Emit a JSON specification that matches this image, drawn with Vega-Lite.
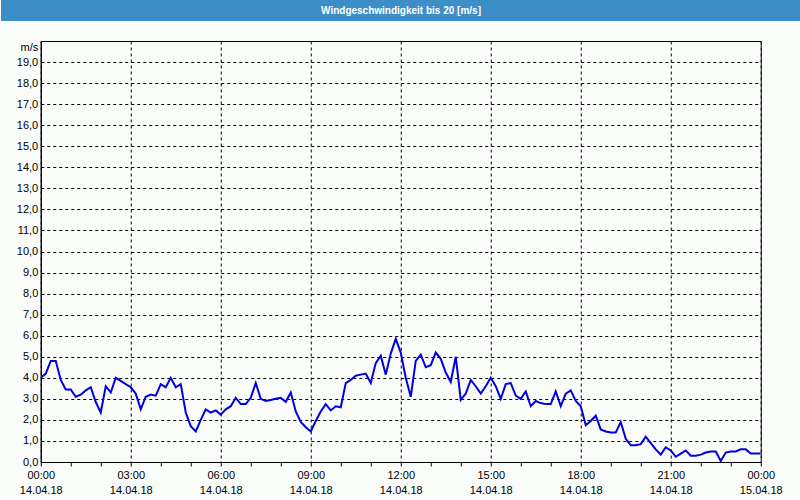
{
  "$schema": "https://vega.github.io/schema/vega-lite/v6.json",
  "padding": 0,
  "background": "#fafcfa",
  "spacing": 19,
  "center": true,
  "config": {
    "font": "Liberation Sans",
    "axis": {"labelFont": "Liberation Sans", "labelFontSize": 11, "labelColor": "#000000"}
  },
  "datasets": {
    "wind": [
      {"t": "2018-04-14T00:00:00", "v": 4.0},
      {"t": "2018-04-14T00:10:00", "v": 4.2},
      {"t": "2018-04-14T00:20:00", "v": 4.8},
      {"t": "2018-04-14T00:30:00", "v": 4.8},
      {"t": "2018-04-14T00:40:00", "v": 3.9},
      {"t": "2018-04-14T00:50:00", "v": 3.45},
      {"t": "2018-04-14T01:00:00", "v": 3.45},
      {"t": "2018-04-14T01:10:00", "v": 3.1},
      {"t": "2018-04-14T01:20:00", "v": 3.2},
      {"t": "2018-04-14T01:30:00", "v": 3.4},
      {"t": "2018-04-14T01:40:00", "v": 3.55},
      {"t": "2018-04-14T01:50:00", "v": 2.85},
      {"t": "2018-04-14T02:00:00", "v": 2.35},
      {"t": "2018-04-14T02:10:00", "v": 3.6},
      {"t": "2018-04-14T02:20:00", "v": 3.3},
      {"t": "2018-04-14T02:30:00", "v": 4.0},
      {"t": "2018-04-14T02:40:00", "v": 3.85},
      {"t": "2018-04-14T02:50:00", "v": 3.7},
      {"t": "2018-04-14T03:00:00", "v": 3.55},
      {"t": "2018-04-14T03:10:00", "v": 3.25},
      {"t": "2018-04-14T03:20:00", "v": 2.5},
      {"t": "2018-04-14T03:30:00", "v": 3.1},
      {"t": "2018-04-14T03:40:00", "v": 3.2},
      {"t": "2018-04-14T03:50:00", "v": 3.15},
      {"t": "2018-04-14T04:00:00", "v": 3.7},
      {"t": "2018-04-14T04:10:00", "v": 3.55},
      {"t": "2018-04-14T04:20:00", "v": 4.0},
      {"t": "2018-04-14T04:30:00", "v": 3.55},
      {"t": "2018-04-14T04:40:00", "v": 3.7},
      {"t": "2018-04-14T04:50:00", "v": 2.35},
      {"t": "2018-04-14T05:00:00", "v": 1.7},
      {"t": "2018-04-14T05:10:00", "v": 1.45},
      {"t": "2018-04-14T05:20:00", "v": 2.0},
      {"t": "2018-04-14T05:30:00", "v": 2.5},
      {"t": "2018-04-14T05:40:00", "v": 2.35},
      {"t": "2018-04-14T05:50:00", "v": 2.45},
      {"t": "2018-04-14T06:00:00", "v": 2.25},
      {"t": "2018-04-14T06:10:00", "v": 2.5},
      {"t": "2018-04-14T06:20:00", "v": 2.65},
      {"t": "2018-04-14T06:30:00", "v": 3.05},
      {"t": "2018-04-14T06:40:00", "v": 2.75},
      {"t": "2018-04-14T06:50:00", "v": 2.75},
      {"t": "2018-04-14T07:00:00", "v": 3.05},
      {"t": "2018-04-14T07:10:00", "v": 3.75},
      {"t": "2018-04-14T07:20:00", "v": 3.0},
      {"t": "2018-04-14T07:30:00", "v": 2.9},
      {"t": "2018-04-14T07:40:00", "v": 2.95},
      {"t": "2018-04-14T07:50:00", "v": 3.0},
      {"t": "2018-04-14T08:00:00", "v": 3.05},
      {"t": "2018-04-14T08:10:00", "v": 2.85},
      {"t": "2018-04-14T08:20:00", "v": 3.3},
      {"t": "2018-04-14T08:30:00", "v": 2.4},
      {"t": "2018-04-14T08:40:00", "v": 1.9},
      {"t": "2018-04-14T08:50:00", "v": 1.65},
      {"t": "2018-04-14T09:00:00", "v": 1.45},
      {"t": "2018-04-14T09:10:00", "v": 1.95},
      {"t": "2018-04-14T09:20:00", "v": 2.4},
      {"t": "2018-04-14T09:30:00", "v": 2.75},
      {"t": "2018-04-14T09:40:00", "v": 2.45},
      {"t": "2018-04-14T09:50:00", "v": 2.65},
      {"t": "2018-04-14T10:00:00", "v": 2.6},
      {"t": "2018-04-14T10:10:00", "v": 3.75},
      {"t": "2018-04-14T10:20:00", "v": 3.9},
      {"t": "2018-04-14T10:30:00", "v": 4.1},
      {"t": "2018-04-14T10:40:00", "v": 4.15},
      {"t": "2018-04-14T10:50:00", "v": 4.2},
      {"t": "2018-04-14T11:00:00", "v": 3.75},
      {"t": "2018-04-14T11:10:00", "v": 4.7},
      {"t": "2018-04-14T11:20:00", "v": 5.05},
      {"t": "2018-04-14T11:30:00", "v": 4.15},
      {"t": "2018-04-14T11:40:00", "v": 5.15},
      {"t": "2018-04-14T11:50:00", "v": 5.85},
      {"t": "2018-04-14T12:00:00", "v": 5.2},
      {"t": "2018-04-14T12:10:00", "v": 4.0},
      {"t": "2018-04-14T12:20:00", "v": 3.1},
      {"t": "2018-04-14T12:30:00", "v": 4.8},
      {"t": "2018-04-14T12:40:00", "v": 5.1},
      {"t": "2018-04-14T12:50:00", "v": 4.5},
      {"t": "2018-04-14T13:00:00", "v": 4.6},
      {"t": "2018-04-14T13:10:00", "v": 5.2},
      {"t": "2018-04-14T13:20:00", "v": 4.9},
      {"t": "2018-04-14T13:30:00", "v": 4.25},
      {"t": "2018-04-14T13:40:00", "v": 3.8},
      {"t": "2018-04-14T13:50:00", "v": 5.0},
      {"t": "2018-04-14T14:00:00", "v": 2.95},
      {"t": "2018-04-14T14:10:00", "v": 3.25},
      {"t": "2018-04-14T14:20:00", "v": 3.9},
      {"t": "2018-04-14T14:30:00", "v": 3.6},
      {"t": "2018-04-14T14:40:00", "v": 3.25},
      {"t": "2018-04-14T14:50:00", "v": 3.6},
      {"t": "2018-04-14T15:00:00", "v": 4.0},
      {"t": "2018-04-14T15:10:00", "v": 3.6},
      {"t": "2018-04-14T15:20:00", "v": 3.0},
      {"t": "2018-04-14T15:30:00", "v": 3.7},
      {"t": "2018-04-14T15:40:00", "v": 3.75},
      {"t": "2018-04-14T15:50:00", "v": 3.15},
      {"t": "2018-04-14T16:00:00", "v": 3.0},
      {"t": "2018-04-14T16:10:00", "v": 3.35},
      {"t": "2018-04-14T16:20:00", "v": 2.65},
      {"t": "2018-04-14T16:30:00", "v": 2.9},
      {"t": "2018-04-14T16:40:00", "v": 2.8},
      {"t": "2018-04-14T16:50:00", "v": 2.75},
      {"t": "2018-04-14T17:00:00", "v": 2.75},
      {"t": "2018-04-14T17:10:00", "v": 3.35},
      {"t": "2018-04-14T17:20:00", "v": 2.65},
      {"t": "2018-04-14T17:30:00", "v": 3.25},
      {"t": "2018-04-14T17:40:00", "v": 3.4},
      {"t": "2018-04-14T17:50:00", "v": 2.9},
      {"t": "2018-04-14T18:00:00", "v": 2.65},
      {"t": "2018-04-14T18:10:00", "v": 1.75},
      {"t": "2018-04-14T18:20:00", "v": 1.95},
      {"t": "2018-04-14T18:30:00", "v": 2.2},
      {"t": "2018-04-14T18:40:00", "v": 1.55},
      {"t": "2018-04-14T18:50:00", "v": 1.45},
      {"t": "2018-04-14T19:00:00", "v": 1.4},
      {"t": "2018-04-14T19:10:00", "v": 1.4},
      {"t": "2018-04-14T19:20:00", "v": 1.9},
      {"t": "2018-04-14T19:30:00", "v": 1.1},
      {"t": "2018-04-14T19:40:00", "v": 0.8},
      {"t": "2018-04-14T19:50:00", "v": 0.8},
      {"t": "2018-04-14T20:00:00", "v": 0.85},
      {"t": "2018-04-14T20:10:00", "v": 1.2},
      {"t": "2018-04-14T20:20:00", "v": 0.9},
      {"t": "2018-04-14T20:30:00", "v": 0.6},
      {"t": "2018-04-14T20:40:00", "v": 0.35},
      {"t": "2018-04-14T20:50:00", "v": 0.7},
      {"t": "2018-04-14T21:00:00", "v": 0.55},
      {"t": "2018-04-14T21:10:00", "v": 0.25},
      {"t": "2018-04-14T21:20:00", "v": 0.4},
      {"t": "2018-04-14T21:30:00", "v": 0.55},
      {"t": "2018-04-14T21:40:00", "v": 0.3},
      {"t": "2018-04-14T21:50:00", "v": 0.3},
      {"t": "2018-04-14T22:00:00", "v": 0.35},
      {"t": "2018-04-14T22:10:00", "v": 0.45},
      {"t": "2018-04-14T22:20:00", "v": 0.5},
      {"t": "2018-04-14T22:30:00", "v": 0.5},
      {"t": "2018-04-14T22:40:00", "v": 0.05},
      {"t": "2018-04-14T22:50:00", "v": 0.45},
      {"t": "2018-04-14T23:00:00", "v": 0.5},
      {"t": "2018-04-14T23:10:00", "v": 0.5},
      {"t": "2018-04-14T23:20:00", "v": 0.6},
      {"t": "2018-04-14T23:30:00", "v": 0.6},
      {"t": "2018-04-14T23:40:00", "v": 0.4},
      {"t": "2018-04-14T23:50:00", "v": 0.4},
      {"t": "2018-04-15T00:00:00", "v": 0.4}
    ],
    "heading": [{"title": "Windgeschwindigkeit bis 20 [m/s]", "pos": 0.5}]
  },
  "vconcat": [
    {
      "width": 840,
      "height": 21,
      "view": {"fill": "#3c8fc6", "stroke": null},
      "data": {"name": "heading"},
      "mark": {"type": "text", "color": "#ffffff", "fontWeight": "bold", "fontSize": 10, "font": "Liberation Sans", "baseline": "middle", "align": "center", "dx": -20},
      "encoding": {
        "x": {"field": "pos", "type": "quantitative", "scale": {"domain": [0, 1]}, "axis": null},
        "text": {"field": "title", "type": "nominal"}
      }
    },
    {
      "width": 720,
      "height": 421,
      "view": {"stroke": "#000000", "strokeWidth": 1, "fill": "#fafcfa"},
      "data": {"name": "wind"},
      "encoding": {
        "x": {
          "field": "t", "type": "temporal", "title": null,
          "scale": {"domain": [{"year": 2018, "month": 4, "date": 14, "hours": 0}, {"year": 2018, "month": 4, "date": 15, "hours": 0}]},
          "axis": {
            "values": [
              {"year": 2018, "month": 4, "date": 14, "hours": 0},
              {"year": 2018, "month": 4, "date": 14, "hours": 1},
              {"year": 2018, "month": 4, "date": 14, "hours": 2},
              {"year": 2018, "month": 4, "date": 14, "hours": 3},
              {"year": 2018, "month": 4, "date": 14, "hours": 4},
              {"year": 2018, "month": 4, "date": 14, "hours": 5},
              {"year": 2018, "month": 4, "date": 14, "hours": 6},
              {"year": 2018, "month": 4, "date": 14, "hours": 7},
              {"year": 2018, "month": 4, "date": 14, "hours": 8},
              {"year": 2018, "month": 4, "date": 14, "hours": 9},
              {"year": 2018, "month": 4, "date": 14, "hours": 10},
              {"year": 2018, "month": 4, "date": 14, "hours": 11},
              {"year": 2018, "month": 4, "date": 14, "hours": 12},
              {"year": 2018, "month": 4, "date": 14, "hours": 13},
              {"year": 2018, "month": 4, "date": 14, "hours": 14},
              {"year": 2018, "month": 4, "date": 14, "hours": 15},
              {"year": 2018, "month": 4, "date": 14, "hours": 16},
              {"year": 2018, "month": 4, "date": 14, "hours": 17},
              {"year": 2018, "month": 4, "date": 14, "hours": 18},
              {"year": 2018, "month": 4, "date": 14, "hours": 19},
              {"year": 2018, "month": 4, "date": 14, "hours": 20},
              {"year": 2018, "month": 4, "date": 14, "hours": 21},
              {"year": 2018, "month": 4, "date": 14, "hours": 22},
              {"year": 2018, "month": 4, "date": 14, "hours": 23},
              {"year": 2018, "month": 4, "date": 15, "hours": 0}
            ],
            "labelExpr": "hours(datum.value) % 3 == 0 ? [timeFormat(datum.value, '%H:%M'), timeFormat(datum.value, '%d.%m.%y')] : ''",
            "labelAlign": "center",
            "labelBaseline": "top",
            "labelPadding": 3,
            "labelLineHeight": 15,
            "labelOverlap": false,
            "labelFlush": false,
            "tickColor": "#000000",
            "tickSize": 4,
            "domainColor": "#000000",
            "grid": true,
            "gridColor": "#000000",
            "gridDash": [3, 3],
            "gridOpacity": {"expr": "hours(datum.value) % 3 == 0 ? 1 : 0"}
          }
        }
      },
      "layer": [
        {
          "mark": {"type": "line", "color": "#0000e0", "strokeWidth": 2, "clip": true},
          "encoding": {
            "y": {
              "field": "v", "type": "quantitative", "title": null,
              "scale": {"domain": [0, 20], "nice": false, "zero": true},
              "axis": {
                "values": [0, 1, 2, 3, 4, 5, 6, 7, 8, 9, 10, 11, 12, 13, 14, 15, 16, 17, 18, 19, 20],
                "labelExpr": "datum.value == 20 ? 'm/s' : replace(format(datum.value, '.1f'), '.', ',')",
                "labelBaseline": {"expr": "datum.value == 20 ? 'top' : 'middle'"},
                "labelPadding": 3,
                "labelOverlap": false,
                "labelFlush": false,
                "ticks": false,
                "minExtent": 40,
                "domainColor": "#000000",
                "grid": true,
                "gridColor": "#000000",
                "gridDash": [3, 3],
                "gridOpacity": 1
              }
            }
          }
        },
        {
          "mark": {"type": "line", "strokeOpacity": 0, "clip": true},
          "encoding": {
            "y": {
              "field": "v", "type": "quantitative", "title": null,
              "axis": {"orient": "right", "labels": false, "ticks": false, "domain": false, "grid": false, "minExtent": 40}
            }
          }
        }
      ],
      "resolve": {"axis": {"y": "independent"}}
    }
  ]
}
